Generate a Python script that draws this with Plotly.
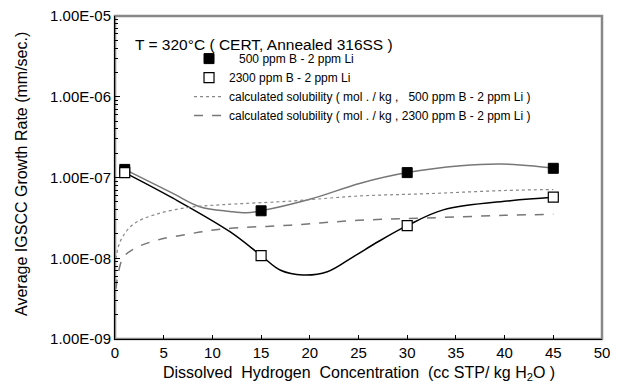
import plotly.graph_objects as go

# ---- data: measured points ----
h2_conc = [1, 15, 30, 45]
rate_500 = [1.26e-7, 3.87e-8, 1.15e-7, 1.30e-7]
rate_2300 = [1.15e-7, 1.08e-8, 2.53e-8, 5.7e-8]

# ---- smoothed trend curves ----
trend_500_x = [1, 6, 8.7, 11.8, 13.5, 15, 20, 25.2, 30, 35.5, 39.6, 43, 45]
trend_500_y = [1.26e-7, 6.3e-8, 4.35e-8, 3.8e-8, 3.65e-8, 3.87e-8, 5.37e-8, 8.5e-8,
               1.15e-7, 1.4e-7, 1.47e-7, 1.39e-7, 1.3e-7]
trend_2300_x = [1, 6, 11.8, 15, 17, 19.3, 21.8, 24.5, 27, 30, 33.7, 40.6, 45]
trend_2300_y = [1.15e-7, 5.5e-8, 2.13e-8, 1.08e-8, 7.1e-9, 6.2e-9, 6.8e-9, 1.05e-8,
                1.6e-8, 2.53e-8, 3.97e-8, 5.16e-8, 5.7e-8]

# ---- calculated solubility curves ----
sol_x = [0.1, 0.35, 0.85, 1.9, 4.2, 7.6, 11, 18, 25, 32, 40, 45]
sol_500 = [9.8e-9, 1.4e-8, 1.9e-8, 2.65e-8, 3.5e-8, 4.27e-8, 4.6e-8, 5.1e-8, 5.9e-8, 6.3e-8, 6.9e-8, 7.1e-8]
sol_2300 = [4.2e-9, 6.7e-9, 1.02e-8, 1.3e-8, 1.66e-8, 2.0e-8, 2.3e-8, 2.57e-8, 2.95e-8, 3.15e-8, 3.4e-8, 3.5e-8]

y_tickvals = [1e-9, 1e-8, 1e-7, 1e-6, 1e-5]
y_ticktext = ["1.00E-09", "1.00E-08", "1.00E-07", "1.00E-06", "1.00E-05"]
y_minor = [k * 10.0 ** e for e in range(-9, -5) for k in range(2, 10)]

FONT = "Liberation Sans, Arial, sans-serif"
NB = "\u00a0"

fig = go.Figure()

fig.add_trace(go.Scatter(x=trend_500_x, y=trend_500_y, mode="lines",
                         line=dict(color="#777777", width=1.5, shape="spline", smoothing=1.0),
                         showlegend=False, hoverinfo="skip"))
fig.add_trace(go.Scatter(x=trend_2300_x, y=trend_2300_y, mode="lines",
                         line=dict(color="black", width=1.5, shape="spline", smoothing=1.0),
                         showlegend=False, hoverinfo="skip"))

fig.add_trace(go.Scatter(x=h2_conc, y=rate_500, mode="markers",
                         name=NB * 3 + "500 ppm B - 2 ppm Li",
                         marker=dict(symbol="square", size=10, color="black",
                                     line=dict(color="black", width=1))))
fig.add_trace(go.Scatter(x=h2_conc, y=rate_2300, mode="markers",
                         name="2300 ppm B - 2 ppm Li",
                         marker=dict(symbol="square", size=10, color="white",
                                     line=dict(color="black", width=1.2))))

fig.add_trace(go.Scatter(x=sol_x, y=sol_500, mode="lines",
                         name="calculated solubility ( mol . / kg ," + NB * 3 + "500 ppm B - 2 ppm Li )",
                         line=dict(color="#888888", width=1.2, dash="dot", shape="spline")))
fig.add_trace(go.Scatter(x=sol_x, y=sol_2300, mode="lines",
                         name="calculated solubility ( mol . / kg , 2300 ppm B - 2 ppm Li )",
                         line=dict(color="#777777", width=1.5, dash="dash", shape="spline")))

fig.add_shape(type="rect", xref="paper", yref="paper", x0=0, y0=0, x1=1, y1=1,
              line=dict(color="#888888", width=2.5), layer="below")

fig.add_annotation(text="T = 320°C ( CERT, Annealed 316SS )", xref="paper", yref="paper",
                   x=0.037, y=0.912, xanchor="left", yanchor="middle", showarrow=False,
                   font=dict(family=FONT, size=15.5, color="black"))

# axis titles
fig.add_annotation(text="Dissolved  Hydrogen  Concentration  (cc STP/ kg H<sub>2</sub>O )",
                   xref="paper", yref="paper", x=0.502, y=-0.106, xanchor="center", yanchor="middle",
                   showarrow=False, font=dict(family=FONT, size=16, color="black"))
fig.add_annotation(text="Average IGSCC Growth Rate (mm/sec.)", textangle=-90,
                   xref="paper", yref="paper", x=-0.191, y=0.511, xanchor="center", yanchor="middle",
                   showarrow=False, font=dict(family=FONT, size=16, color="black"))

fig.update_layout(
    width=617, height=386,
    margin=dict(l=115, r=15, t=16, b=47, autoexpand=False),
    paper_bgcolor="white", plot_bgcolor="white",
    font=dict(family=FONT, size=15, color="black"),
    showlegend=True,
    legend=dict(x=0.152, y=0.913, xanchor="left", yanchor="top",
                bgcolor="rgba(0,0,0,0)", font=dict(family=FONT, size=12, color="black"),
                tracegroupgap=0, itemwidth=30),
    xaxis=dict(range=[0, 50], dtick=5, tick0=0, showgrid=False, zeroline=False,
               showline=True, linecolor="black", linewidth=1, automargin=False,
               ticks="inside", ticklen=4, tickcolor="black"),
    yaxis=dict(type="log", range=[-9, -5], tickvals=y_tickvals, ticktext=y_ticktext,
               showgrid=False, zeroline=False, showline=True, linecolor="black", linewidth=1,
               automargin=False, ticks="inside", ticklen=5, tickcolor="black",
               minor=dict(tickvals=y_minor, ticks="inside", ticklen=3, tickcolor="black", showgrid=False)),
)

fig.write_html("out.html")
